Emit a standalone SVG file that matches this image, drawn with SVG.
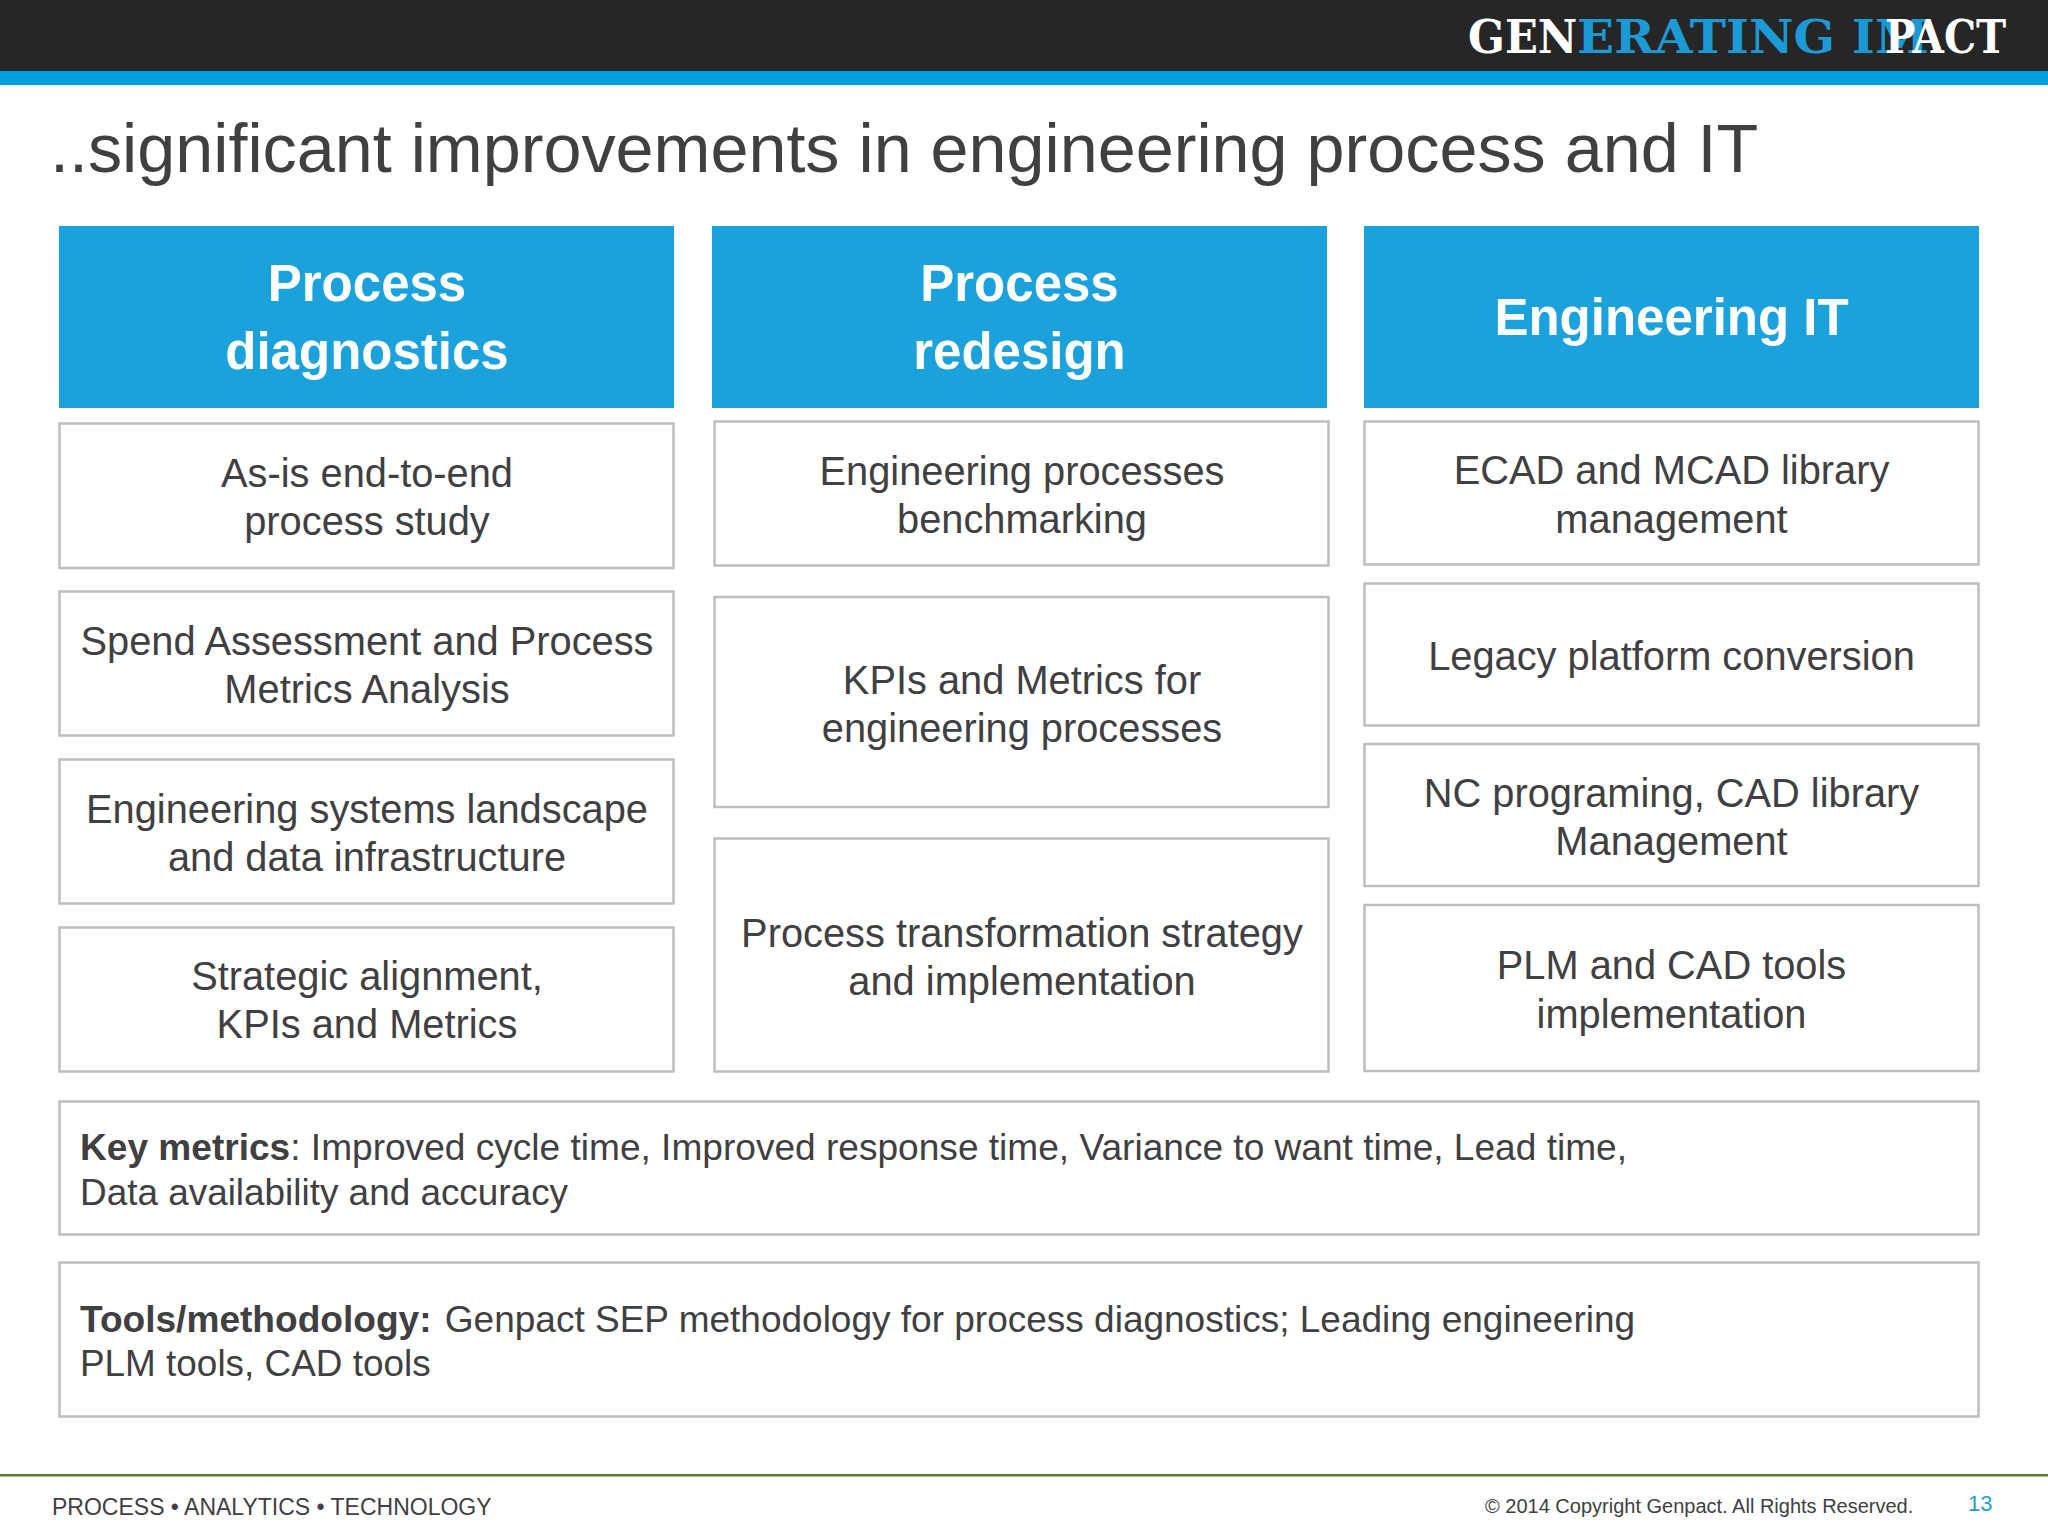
<svg xmlns="http://www.w3.org/2000/svg" width="2048" height="1536" viewBox="0 0 2048 1536">
<style>
text{font-family:"Liberation Sans",Arial,sans-serif;fill:#404042}
.h{fill:#1ba1dc}
.ht{fill:#fff;font-weight:bold;font-size:51px;text-anchor:middle}
.b{fill:#fff;stroke:#bdbec0;stroke-width:2.5}
.t{font-size:39.8px;text-anchor:middle}
.m{font-size:37.1px}
.m2{font-size:36.9px}
.logo{font-family:"DejaVu Serif",serif;font-weight:bold;font-size:46px;fill:#fff}
.foot{font-size:23px}
</style>
<rect id="topbar" width="2048" height="71" fill="#262626"/>
<rect id="bluebar" y="71" width="2048" height="14" fill="#00a0e0"/>
<g id="logo">
<text class="logo" transform="translate(1468 53) scale(.94 1)">GEN</text>
<text class="logo" transform="translate(1577 53) scale(1.06 1)" style="fill:#1b9ad6">ERATING IM</text>
<text class="logo" transform="translate(1885 53) scale(.88 1)">PACT</text>
</g>
<text id="title" x="50" y="172" font-size="68.3">..significant improvements in engineering process and IT</text>
<g id="h1"><rect class="h" x="59" y="226" width="615" height="182"/><text class="ht" x="367" y="301">Process</text><text class="ht" x="367" y="369">diagnostics</text></g>
<g id="h2"><rect class="h" x="712" y="226" width="615" height="182"/><text class="ht" x="1019.500" y="301">Process</text><text class="ht" x="1019.500" y="369">redesign</text></g>
<g id="h3"><rect class="h" x="1364" y="226" width="615" height="182"/><text class="ht" x="1671.500" y="335">Engineering IT</text></g>
<g id="c1a"><rect class="b" x="59.500" y="423.500" width="614" height="144.500"/><text class="t" x="367" y="487">As-is end-to-end</text><text class="t" x="367" y="535">process study</text></g>
<g id="c1b"><rect class="b" x="59.500" y="591.500" width="614" height="144"/><text class="t" x="367" y="655">Spend Assessment and Process</text><text class="t" x="367" y="703">Metrics Analysis</text></g>
<g id="c1c"><rect class="b" x="59.500" y="759.500" width="614" height="144"/><text class="t" x="367" y="823">Engineering systems landscape</text><text class="t" x="367" y="871">and data infrastructure</text></g>
<g id="c1d"><rect class="b" x="59.500" y="927.500" width="614" height="144"/><text class="t" x="367" y="990">Strategic alignment,</text><text class="t" x="367" y="1038">KPIs and Metrics</text></g>
<g id="c2a"><rect class="b" x="714.500" y="421.500" width="614" height="144"/><text class="t" x="1022" y="485">Engineering processes</text><text class="t" x="1022" y="533">benchmarking</text></g>
<g id="c2b"><rect class="b" x="714.500" y="597" width="614" height="210"/><text class="t" x="1022" y="694">KPIs and Metrics for</text><text class="t" x="1022" y="742">engineering processes</text></g>
<g id="c2c"><rect class="b" x="714.500" y="838.500" width="614" height="233"/><text class="t" x="1022" y="947">Process transformation strategy</text><text class="t" x="1022" y="995">and implementation</text></g>
<g id="c3a"><rect class="b" x="1364.500" y="421.500" width="614" height="143"/><text class="t" x="1671.500" y="484">ECAD and MCAD library</text><text class="t" x="1671.500" y="533">management</text></g>
<g id="c3b"><rect class="b" x="1364.500" y="583.500" width="614" height="142"/><text class="t" x="1671.500" y="670">Legacy platform conversion</text></g>
<g id="c3c"><rect class="b" x="1364.500" y="744" width="614" height="142"/><text class="t" x="1671.500" y="807">NC programing, CAD library</text><text class="t" x="1671.500" y="855">Management</text></g>
<g id="c3d"><rect class="b" x="1364.500" y="905" width="614" height="166"/><text class="t" x="1671.500" y="979">PLM and CAD tools</text><text class="t" x="1671.500" y="1028">implementation</text></g>
<g id="metrics"><rect class="b" x="59.500" y="1101.500" width="1919" height="133"/><text class="m" x="80" y="1160"><tspan font-weight="bold">Key metrics</tspan>: Improved cycle time, Improved response time, Variance to want time, Lead time,</text><text class="m2" x="80" y="1205">Data availability and accuracy</text></g>
<g id="tools"><rect class="b" x="59.500" y="1262.500" width="1919" height="154"/><text class="m" x="80" y="1332"><tspan font-weight="bold">Tools/methodology:</tspan> <tspan dx="3" font-size="37">Genpact SEP methodology for process diagnostics; Leading engineering</tspan></text><text class="m2" x="80" y="1376">PLM tools, CAD tools</text></g>
<rect id="footline" y="1474" width="2048" height="2.500" fill="#5b7a36"/>
<text class="foot" x="52" y="1515">PROCESS • ANALYTICS • TECHNOLOGY</text>
<text x="1485" y="1513" font-size="20">© 2014 Copyright Genpact. All Rights Reserved.</text>
<text x="1968" y="1511" font-size="22" style="fill:#1ba1dc">13</text>
</svg>
